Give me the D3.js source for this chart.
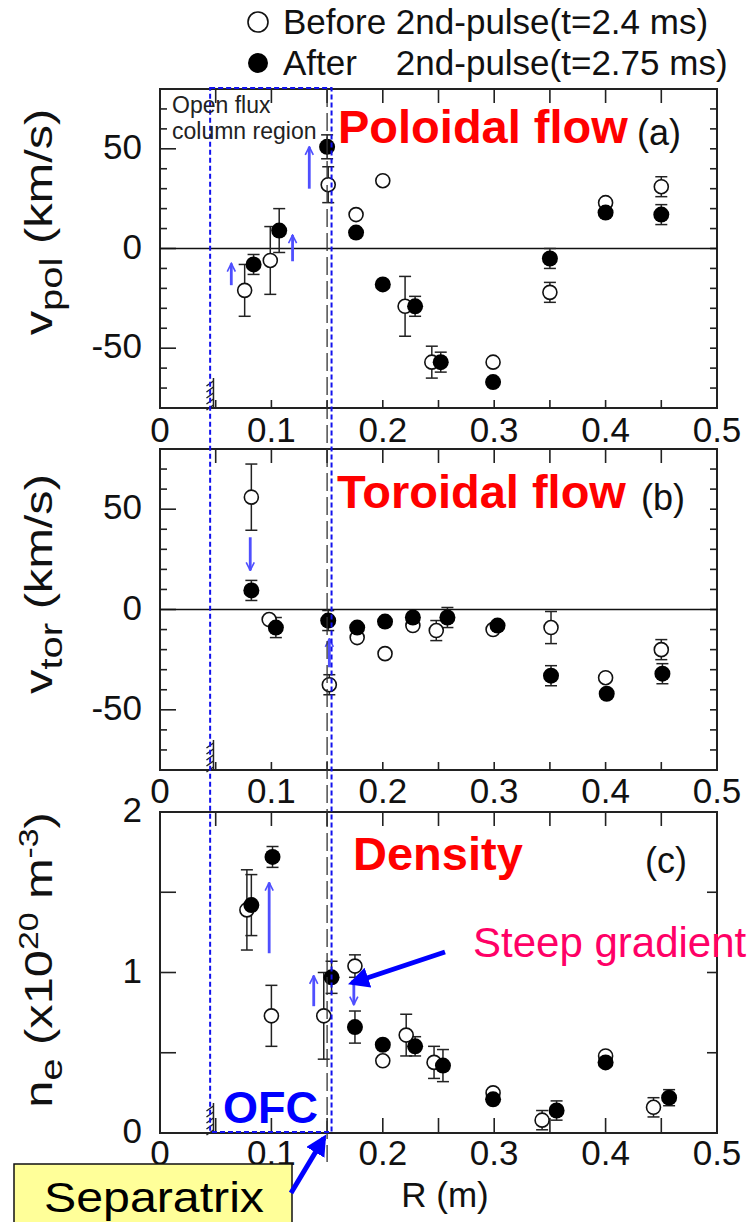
<!DOCTYPE html>
<html>
<head>
<meta charset="utf-8">
<script src="https://cdn.jsdelivr.net/npm/d3@7"></script>
<style>
  body { margin: 0; background: #fff; }
  svg { display: block; }
</style>
</head>
<body>
<svg id="chart" width="754" height="1222"></svg>
<script>
// ---------- data ----------
// major radius axis (m)
const rDomain = [0, 0.5];
const rTickLabels = [0, 0.1, 0.2, 0.3, 0.4, 0.5];
const rTickMarks = [0.05, 0.1, 0.15, 0.2, 0.25, 0.3, 0.35, 0.4, 0.45];

// flow-velocity axes (km/s)
const velDomain = [-80, 80];
const velTickLabels = [-50, 0, 50];
const velTickMarks = [-80, -70, -60, -50, -40, -30, -20, -10, 0, 10, 20, 30, 40, 50, 60, 70, 80];

// density axis (1e20 m^-3)
const neDomain = [0, 2];
const neTickLabels = [0, 1, 2];
const neTickMarks = [0, 0.5, 1, 1.5, 2];

// (a) poloidal flow
const polBeforeR   = [0.076, 0.099, 0.151, 0.176, 0.200, 0.220, 0.244, 0.299, 0.350, 0.400, 0.450];
const polBeforeV   = [-21, -6, 32, 17, 34, -29, -57, -57, -22, 23, 31];
const polBeforeErr = [13, 17, 9, 0, 0, 15, 8, 0, 5, 0, 5];
const polAfterR    = [0.084, 0.107, 0.150, 0.176, 0.200, 0.229, 0.252, 0.299, 0.350, 0.400, 0.450];
const polAfterV    = [-8, 9, 51, 8, -18, -29, -57, -67, -5, 18, 17];
const polAfterErr  = [5, 11, 6, 0, 0, 5, 5, 0, 5, 0, 5];

// (b) toroidal flow
const torBeforeR   = [0.082, 0.098, 0.152, 0.177, 0.202, 0.227, 0.248, 0.299, 0.351, 0.400, 0.450];
const torBeforeV   = [56, -5, -37.5, -14, -22, -8, -10.5, -10, -9, -34, -20];
const torBeforeErr = [16.5, 0, 5, 0, 0, 0, 5, 0, 8, 0, 5];
const torAfterR    = [0.082, 0.104, 0.151, 0.177, 0.202, 0.227, 0.258, 0.303, 0.351, 0.401, 0.451];
const torAfterV    = [9.5, -9, -5.5, -9, -6, -4, -4, -8, -33, -42, -32];
const torAfterErr  = [5, 5, 5, 0, 0, 0, 5, 0, 5, 0, 5];

// (c) electron density
const neBeforeR    = [0.078, 0.100, 0.147, 0.175, 0.200, 0.221, 0.246, 0.299, 0.343, 0.400, 0.443];
const neBeforeV    = [1.39, 0.73, 0.73, 1.04, 0.45, 0.61, 0.44, 0.25, 0.08, 0.48, 0.16];
const neBeforeErr  = [0.25, 0.19, 0.27, 0.07, 0, 0.13, 0.10, 0, 0.06, 0, 0.06];
const neAfterR     = [0.082, 0.101, 0.154, 0.175, 0.200, 0.229, 0.254, 0.299, 0.356, 0.400, 0.457];
const neAfterV     = [1.42, 1.72, 0.97, 0.66, 0.55, 0.54, 0.42, 0.21, 0.14, 0.44, 0.22];
const neAfterErr   = [0.19, 0.065, 0.10, 0.10, 0, 0.06, 0.10, 0, 0.06, 0, 0.05];

// change markers between the two times: [R, from, to]
const polShiftArrows = [[0.064, -18.4, -7.5], [0.119, -6.4, 6.7], [0.134, 30, 51]];
const torShiftArrows = [[0.081, 36, 19.5], [0.152, -28.8, -14.6]];
const neShiftArrows  = [[0.098, 1.12, 1.56], [0.138, 0.79, 0.98], [0.174, 0.95, 0.80]];

// geometry markers (m)
const wallR = 0.048;
const separatrixR = 0.15;
const ofcInnerR = 0.045;
const ofcOuterR = 0.154;

// ---------- drawing ----------
const FONT = '"Liberation Sans", Arial, Helvetica, sans-serif';
const svg = d3.select('#chart').style('font-family', FONT);
const x = d3.scaleLinear().domain(rDomain).range([160, 717]);

const defs = svg.append('defs');
defs.append('marker')
  .attr('id', 'boldHead').attr('viewBox', '0 0 10 10')
  .attr('refX', 8).attr('refY', 5)
  .attr('markerWidth', 4.2).attr('markerHeight', 4.2)
  .attr('orient', 'auto').attr('markerUnits', 'strokeWidth')
  .append('path').attr('d', 'M0,0 L10,5 L0,10 z').attr('fill', '#0000ff');
defs.append('marker')
  .attr('id', 'thinHead').attr('viewBox', '0 0 10 10')
  .attr('refX', 9).attr('refY', 5)
  .attr('markerWidth', 3.6).attr('markerHeight', 3.6)
  .attr('orient', 'auto').attr('markerUnits', 'strokeWidth')
  .append('path').attr('d', 'M1,1 L9,5 L1,9').attr('fill', 'none')
  .attr('stroke', '#4f4fff').attr('stroke-width', 1.6);

const panels = [
  { top: 89, bottom: 408, domain: velDomain, labels: velTickLabels, marks: velTickMarks, major: [-50, 0, 50],
    zero: true, labelGap: 34,
    before: { r: polBeforeR, v: polBeforeV, e: polBeforeErr },
    after:  { r: polAfterR,  v: polAfterV,  e: polAfterErr },
    arrows: polShiftArrows,
    title: 'Poloidal flow', titleX: 338, titleY: 143, tag: '(a)', tagX: 637, tagY: 145,
    leftTick: 16, rightTick: 7, botTick: 8 },
  { top: 449, bottom: 770, domain: velDomain, labels: velTickLabels, marks: velTickMarks, major: [-50, 0, 50],
    zero: true, labelGap: 33,
    before: { r: torBeforeR, v: torBeforeV, e: torBeforeErr },
    after:  { r: torAfterR,  v: torAfterV,  e: torAfterErr },
    arrows: torShiftArrows,
    title: 'Toroidal flow', titleX: 337, titleY: 508, tag: '(b)', tagX: 641, tagY: 510,
    leftTick: 16, rightTick: 7, botTick: 8 },
  { top: 812, bottom: 1133, domain: neDomain, labels: neTickLabels, marks: neTickMarks, major: [0, 0.5, 1, 1.5, 2],
    zero: false, labelGap: 32,
    before: { r: neBeforeR, v: neBeforeV, e: neBeforeErr },
    after:  { r: neAfterR,  v: neAfterV,  e: neAfterErr },
    arrows: neShiftArrows,
    title: 'Density', titleX: 353, titleY: 870, tag: '(c)', tagX: 645, tagY: 873,
    leftTick: 16, rightTick: 10, botTick: 15 }
];

const L = x.range()[0], R = x.range()[1];

panels.forEach(p => {
  const y = d3.scaleLinear().domain(p.domain).range([p.bottom, p.top]);
  const g = svg.append('g');

  // tick marks pointing inward on all four sides
  const ticks = g.append('g').attr('stroke', '#222').attr('stroke-width', 1.6);
  ticks.selectAll('.tt').data(rTickMarks).join('line')
    .attr('x1', d => x(d)).attr('x2', d => x(d))
    .attr('y1', p.top).attr('y2', p.top + 14);
  ticks.selectAll('.bt').data(rTickMarks).join('line')
    .attr('x1', d => x(d)).attr('x2', d => x(d))
    .attr('y1', p.bottom).attr('y2', p.bottom - p.botTick);
  ticks.selectAll('.lt').data(p.marks).join('line')
    .attr('x1', L).attr('x2', d => L + (p.major.includes(d) ? p.leftTick : 7))
    .attr('y1', d => y(d)).attr('y2', d => y(d));
  ticks.selectAll('.rt').data(p.marks).join('line')
    .attr('x1', R).attr('x2', R - p.rightTick)
    .attr('y1', d => y(d)).attr('y2', d => y(d));

  // value labels
  g.append('g').selectAll('text').data(p.labels).join('text')
    .attr('x', 142).attr('y', d => y(d) + 10)
    .attr('text-anchor', 'end').attr('font-size', 35).attr('fill', '#111')
    .text(d => String(d));
  g.append('g').selectAll('text').data(rTickLabels).join('text')
    .attr('x', d => x(d)).attr('y', p.bottom + p.labelGap)
    .attr('text-anchor', 'middle').attr('font-size', 35).attr('fill', '#111')
    .text(d => String(d));

  // frame
  g.append('rect').attr('x', L).attr('y', p.top).attr('width', R - L).attr('height', p.bottom - p.top)
    .attr('fill', 'none').attr('stroke', '#222').attr('stroke-width', 2);

  if (p.zero) {
    g.append('line').attr('x1', L).attr('x2', R).attr('y1', y(0)).attr('y2', y(0))
      .attr('stroke', '#111').attr('stroke-width', 1.6);
  }

  // hatched wall marker
  const hx = x(wallR);
  const hatch = g.append('g').attr('stroke', '#222').attr('stroke-width', 1.5);
  hatch.append('line').attr('x1', hx).attr('x2', hx).attr('y1', p.bottom).attr('y2', p.bottom - 30);
  [0, 1, 2, 3, 4].forEach(k => {
    const yk = p.bottom - 27 + k * 6;
    hatch.append('line').attr('x1', hx - 7).attr('y1', yk + 5).attr('x2', hx).attr('y2', yk);
  });

  // error bars
  const toPts = s => s.r.map((r, i) => ({ r, v: s.v[i], e: s.e[i] }));
  const eb = g.append('g').attr('stroke', '#222').attr('stroke-width', 1.5);
  [toPts(p.before), toPts(p.after)].forEach(pts => {
    const withErr = pts.filter(d => d.e > 0);
    eb.append('g').selectAll('line').data(withErr).join('line')
      .attr('x1', d => x(d.r)).attr('x2', d => x(d.r))
      .attr('y1', d => y(d.v - d.e)).attr('y2', d => y(d.v + d.e));
    eb.append('g').selectAll('line').data(withErr).join('line')
      .attr('x1', d => x(d.r) - 6).attr('x2', d => x(d.r) + 6)
      .attr('y1', d => y(d.v - d.e)).attr('y2', d => y(d.v - d.e));
    eb.append('g').selectAll('line').data(withErr).join('line')
      .attr('x1', d => x(d.r) - 6).attr('x2', d => x(d.r) + 6)
      .attr('y1', d => y(d.v + d.e)).attr('y2', d => y(d.v + d.e));
  });

  // points: open = before, filled = after
  g.append('g').selectAll('circle').data(toPts(p.before)).join('circle')
    .attr('cx', d => x(d.r)).attr('cy', d => y(d.v)).attr('r', 7)
    .attr('fill', '#fff').attr('stroke', '#111').attr('stroke-width', 1.6);
  g.append('g').selectAll('circle').data(toPts(p.after)).join('circle')
    .attr('cx', d => x(d.r)).attr('cy', d => y(d.v)).attr('r', 8)
    .attr('fill', '#000');

  // shift arrows
  g.append('g').selectAll('line').data(p.arrows).join('line')
    .attr('x1', d => x(d[0])).attr('x2', d => x(d[0]))
    .attr('y1', d => y(d[1])).attr('y2', d => y(d[2]))
    .attr('stroke', '#4f4fff').attr('stroke-width', 2.8)
    .attr('marker-end', 'url(#thinHead)');

  // panel titles
  g.append('text').attr('x', p.titleX).attr('y', p.titleY)
    .attr('font-size', 47).attr('font-weight', 'bold').attr('fill', '#ff0000')
    .text(p.title);
  g.append('text').attr('x', p.tagX).attr('y', p.tagY)
    .attr('font-size', 36).attr('fill', '#111').text(p.tag);
});

// axis titles (rotated, slightly elongated along the reading direction)
function yTitle(cx, cy, parts) {
  const t = svg.append('text')
    .attr('transform', `translate(${cx},${cy}) rotate(-90) scale(1.25,1)`)
    .attr('text-anchor', 'middle').attr('fill', '#111');
  parts.forEach(pt => {
    t.append('tspan').attr('font-size', pt.s).attr('dy', pt.dy || 0).text(pt.t);
  });
}
yTitle(52, 222, [
  { t: 'v', s: 39 }, { t: 'pol', s: 32, dy: 10 }, { t: ' (km/s)', s: 39, dy: -10 }
]);
yTitle(52, 584, [
  { t: 'v', s: 39 }, { t: 'tor', s: 32, dy: 10 }, { t: ' (km/s)', s: 39, dy: -10 }
]);
yTitle(52, 960, [
  { t: 'n', s: 39 }, { t: 'e', s: 32, dy: 10 }, { t: ' (x10', s: 39, dy: -10 },
  { t: '20', s: 27, dy: -14 }, { t: ' m', s: 39, dy: 14 }, { t: '-3', s: 27, dy: -14 }, { t: ')', s: 39, dy: 14 }
]);

svg.append('text').attr('x', 445).attr('y', 1207).attr('text-anchor', 'middle')
  .attr('font-size', 35).attr('fill', '#111').text('R (m)');

// separatrix reference line
svg.append('line')
  .attr('x1', x(separatrixR)).attr('x2', x(separatrixR)).attr('y1', 89).attr('y2', 1162)
  .attr('stroke', '#333').attr('stroke-width', 1.3).attr('stroke-dasharray', '18,6');

// open flux column region box
svg.append('rect')
  .attr('x', x(ofcInnerR)).attr('y', 88)
  .attr('width', x(ofcOuterR) - x(ofcInnerR)).attr('height', 1132 - 88)
  .attr('fill', 'none').attr('stroke', '#1111ee').attr('stroke-width', 2)
  .attr('stroke-dasharray', '5,3');

svg.append('text').attr('x', 172).attr('y', 113).attr('font-size', 23).attr('fill', '#222').text('Open flux');
svg.append('text').attr('x', 172).attr('y', 139).attr('font-size', 23).attr('fill', '#222').text('column region');

svg.append('text').attr('x', 223).attr('y', 1123).attr('font-size', 45).attr('font-weight', 'bold')
  .attr('fill', '#0000ff').text('OFC');

svg.append('text').attr('x', 473).attr('y', 957).attr('font-size', 42).attr('fill', '#ff0066')
  .text('Steep gradient');
svg.append('line').attr('x1', 445).attr('y1', 952).attr('x2', 352).attr('y2', 983)
  .attr('stroke', '#0000ff').attr('stroke-width', 5).attr('marker-end', 'url(#boldHead)');

// separatrix call-out
svg.append('rect').attr('x', 14).attr('y', 1164).attr('width', 278).attr('height', 72)
  .attr('fill', '#ffff99').attr('stroke', '#111').attr('stroke-width', 1.5);
svg.append('text').attr('x', 154).attr('y', 1212).attr('text-anchor', 'middle')
  .attr('font-size', 42).attr('textLength', 220).attr('lengthAdjust', 'spacingAndGlyphs')
  .attr('fill', '#000').text('Separatrix');
svg.append('line').attr('x1', 291).attr('y1', 1193).attr('x2', 324).attr('y2', 1138)
  .attr('stroke', '#0000ff').attr('stroke-width', 5).attr('marker-end', 'url(#boldHead)');

// legend
const lg = svg.append('g');
lg.append('circle').attr('cx', 258).attr('cy', 22).attr('r', 10)
  .attr('fill', '#fff').attr('stroke', '#111').attr('stroke-width', 1.6);
const l1 = lg.append('text').attr('x', 283).attr('y', 34).attr('font-size', 35).attr('fill', '#111');
const l1a = l1.append('tspan').text('Before ');
l1.append('tspan').text('2nd-pulse(t=2.4 ms)');
lg.append('circle').attr('cx', 258).attr('cy', 63).attr('r', 10).attr('fill', '#000');
lg.append('text').attr('x', 283).attr('y', 75).attr('font-size', 35).attr('fill', '#111').text('After');
lg.append('text').attr('x', 283 + l1a.node().getComputedTextLength()).attr('y', 75)
  .attr('font-size', 35).attr('fill', '#111').text('2nd-pulse(t=2.75 ms)');
</script>
</body>
</html>
